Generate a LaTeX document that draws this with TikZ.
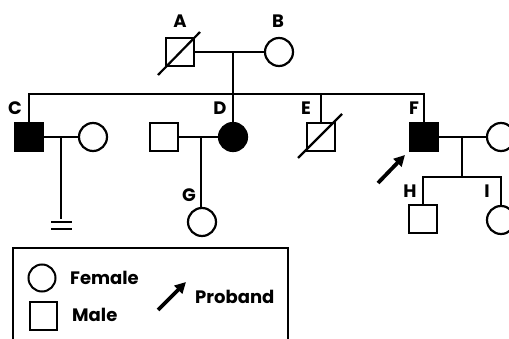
\documentclass[tikz,border=0pt]{standalone}
\usepackage{fontspec}
\setmainfont{Poppins}
\usetikzlibrary{arrows.meta}
\begin{document}
\begin{tikzpicture}[x=1pt,y=-1pt,
  conn/.style={line width=2.2pt},
  male/.style={draw,line width=2.2pt,rectangle,minimum size=28pt,inner sep=0pt},
  female/.style={draw,line width=2.2pt,circle,minimum size=28pt,inner sep=0pt},
  aff/.style={fill=black},
  lbl/.style={font=\bfseries\fontsize{18}{18}\selectfont,anchor=base,inner sep=0pt},
  legtxt/.style={font=\bfseries\fontsize{18}{18}\selectfont,anchor=base west,inner sep=0pt},
  prob/.style={line width=3.8pt,-{Triangle[length=11pt,width=11pt]}}]
\useasboundingbox (0,0) rectangle (509,339);
\clip (0,0) rectangle (509,339);
% generation I
\node[male] (A) at (180,52) {};
\node[female] (B) at (279,52) {};
\draw[conn] ([shift={(-22,23)}]A.center) -- ([shift={(20,-20)}]A.center);
\node[lbl] (lA) at (180,28) {A};
\node[lbl] (lB) at (278,28) {B};
\draw[conn] (A.east) -- (B.west);
\coordinate (ab) at (233,52);
\coordinate (s2) at (233,94);
\draw[conn] (ab) -- (s2);
% generation II
\node[male,aff] (C) at (29,137) {};
\node[female] (Cw) at (93,137) {};
\node[male] (Dh) at (164,137) {};
\node[female,aff] (D) at (233,137) {};
\node[male] (E) at (321,137) {};
\node[male,aff] (F) at (424,137) {};
\node[female] (Fw) at (501,137) {};
\draw[conn] ([shift={(-23,21)}]E.center) -- ([shift={(21,-23)}]E.center);
\node[lbl] (lC) at (15,115) {C};
\node[lbl] (lD) at (220,115) {D};
\node[lbl] (lE) at (306,115) {E};
\node[lbl] (lF) at (414,115) {F};
\draw[conn] (C.north) -- (C.north |- s2) -- (F.north |- s2) -- (F.north);
\draw[conn] (D.north) -- (D.north |- s2);
\draw[conn] (E.north) -- (E.north |- s2);
% C family
\draw[conn] (C.east) -- (Cw.west);
\coordinate (cm) at (61,137);
\coordinate (cb) at (61,219);
\draw[conn] (cm) -- (cb);
\coordinate (b1l) at (51,222);
\coordinate (b1r) at (72,222);
\coordinate (b2l) at (51,229);
\coordinate (b2r) at (72,229);
\draw[line width=2.5pt] (b1l) -- (b1r);
\draw[line width=2.5pt] (b2l) -- (b2r);
% D family
\draw[conn] (Dh.east) -- (D.west);
\coordinate (dm) at (201,137);
\node[female] (G) at (202,222) {};
\node[lbl] (lG) at (189,202) {G};
\draw[conn] (dm) -- (dm |- G.north);
% F family
\draw[conn] (F.east) -- (Fw.west);
\coordinate (fm) at (462,137);
\coordinate (fs) at (462,177);
\draw[conn] (fm) -- (fs);
\node[male] (H) at (423,219) {};
\node[female] (I) at (501,220) {};
\node[lbl] (lH) at (410,198) {H};
\node[lbl] (lI) at (487,198) {I};
\draw[conn] (H.north) -- (H.north |- fs) -- (I.north |- fs) -- (I.north);
% proband arrow
\coordinate (pt) at (378,183);
\coordinate (ph) at (405,155);
\draw[prob] (pt) -- (ph);
% legend
\draw[line width=1.8pt] (13,345) -- (13,248) -- (288,248) -- (288,345);
\node[female,line width=2pt,minimum size=27pt] (LF) at (42,278) {};
\node[male,line width=2pt,minimum size=27pt] (LM) at (43,316) {};
\node[legtxt] (tF) at (70,284) {Female};
\node[legtxt] (tM) at (72,322) {Male};
\node[legtxt] (tP) at (195,304) {Proband};
\coordinate (lt) at (158,310);
\coordinate (lh) at (186,282);
\draw[prob] (lt) -- (lh);
\end{tikzpicture}
\end{document}
